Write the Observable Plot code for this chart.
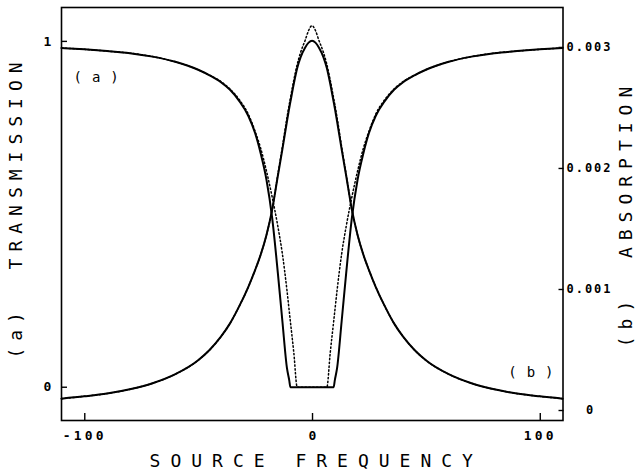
<!DOCTYPE html>
<html>
<head>
<meta charset="utf-8">
<script src="https://cdn.jsdelivr.net/npm/d3@7"></script>
<script src="https://cdn.jsdelivr.net/npm/@observablehq/plot@0.6"></script>
<style>
  html, body { margin: 0; padding: 0; background: #fff; }
  svg { display: block; }
  svg text { white-space: pre; }
</style>
</head>
<body>
<div id="chart"></div>
<script>
// Source frequency (detuning) samples shared by all four curves
const freq = [-110, -100, -90, -80, -70, -60, -50, -45, -40, -36, -32, -28, -25, -22.5, -20, -17.5, -15, -13, -11, -10, -9.5, -8, -6.5, -5, -3, -1.5,
  0,
  1.5, 3, 5, 6.5, 8, 9.5, 10, 11, 13, 15, 17.5, 20, 22.5, 25, 28, 32, 36, 40, 45, 50, 60, 70, 80, 90, 100, 110];

// (a) transmission, solid curve
const transSolid = [0.981, 0.977, 0.972, 0.966, 0.956, 0.941, 0.918, 0.902, 0.882, 0.860, 0.828, 0.785, 0.735, 0.675, 0.600, 0.490, 0.330, 0.190, 0.055, 0.020, 0, 0, 0, 0, 0, 0,
  0,
  0, 0, 0, 0, 0, 0, 0.020, 0.055, 0.190, 0.330, 0.490, 0.600, 0.675, 0.735, 0.785, 0.828, 0.860, 0.882, 0.902, 0.918, 0.941, 0.956, 0.966, 0.972, 0.977, 0.981];

// (a) transmission, dotted curve
const transDotted = [0.981, 0.977, 0.972, 0.966, 0.956, 0.941, 0.918, 0.902, 0.884, 0.862, 0.832, 0.790, 0.740, 0.690, 0.625, 0.550, 0.465, 0.385, 0.280, 0.220, 0.190, 0.100, 0, 0, 0, 0,
  0,
  0, 0, 0, 0, 0.100, 0.190, 0.220, 0.280, 0.385, 0.465, 0.550, 0.625, 0.690, 0.740, 0.790, 0.832, 0.862, 0.884, 0.902, 0.918, 0.941, 0.956, 0.966, 0.972, 0.977, 0.981];

// (b) absorption, solid curve
const absSolid = [0.000098, 0.000117, 0.000140, 0.000175, 0.000225, 0.00030, 0.000415, 0.00050, 0.00061, 0.00072, 0.00086, 0.00102, 0.00116, 0.00129, 0.00145, 0.00166, 0.00194, 0.00216, 0.00239, 0.00250, 0.00255, 0.00270, 0.00283, 0.00292, 0.00300, 0.00304,
  0.003055,
  0.00304, 0.00300, 0.00292, 0.00283, 0.00270, 0.00255, 0.00250, 0.00239, 0.00216, 0.00194, 0.00166, 0.00145, 0.00129, 0.00116, 0.00102, 0.00086, 0.00072, 0.00061, 0.00050, 0.000415, 0.00030, 0.000225, 0.000175, 0.000140, 0.000117, 0.000098];

// (b) absorption, dotted curve
const absDotted = [0.000098, 0.000117, 0.000140, 0.000175, 0.000225, 0.00030, 0.000415, 0.00050, 0.00061, 0.00072, 0.00086, 0.00102, 0.00116, 0.00129, 0.00145, 0.00166, 0.00195, 0.00218, 0.00242, 0.00253, 0.00258, 0.00273, 0.00286, 0.00296, 0.00306, 0.00314,
  0.00318,
  0.00314, 0.00306, 0.00296, 0.00286, 0.00273, 0.00258, 0.00253, 0.00242, 0.00218, 0.00195, 0.00166, 0.00145, 0.00129, 0.00116, 0.00102, 0.00086, 0.00072, 0.00061, 0.00050, 0.000415, 0.00030, 0.000225, 0.000175, 0.000140, 0.000117, 0.000098];

// Axis ticks and labels
const freqTicks = [-100, 0, 100];
const freqTickLabels = ["-100", "0", "100"];
const transTicks = [0, 1];
const transTickLabels = ["0", "1"];
const absTicks = [0, 0.001, 0.002, 0.003];
const absTickLabels = ["0", "0.001", "0.002", "0.003"];

// Axis titles and curve tags
const xTitle = "SOURCE FREQUENCY";
const leftTitle = "(a)  TRANSMISSION";
const rightTitle = "(b)  ABSORPTION";
const tagA = "(a)";
const tagB = "(b)";

// Scale extents: the left (transmission) scale is the plot's y scale,
// the right (absorption) scale is mapped linearly onto it.
const freqDomain = [-110, 110.2];
const transDomain = [-0.0962, 1.098];
const absDomain = [-0.0000826, 0.00333];
const absToY = a => transDomain[0] + (a - absDomain[0]) / (absDomain[1] - absDomain[0]) * (transDomain[1] - transDomain[0]);

const rows = freq.map((f, i) => ({
  f,
  t: transSolid[i],
  td: transDotted[i],
  a: absToY(absSolid[i]),
  ad: absToY(absDotted[i])
}));

const absTickY = absTicks.map(absToY);
const mono = "'DejaVu Sans Mono', monospace";

const chart = Plot.plot({
  width: 637,
  height: 471,
  marginLeft: 61,
  marginRight: 74.5,
  marginTop: 7,
  marginBottom: 51,
  x: {domain: freqDomain},
  y: {domain: transDomain},
  style: {fontFamily: mono, fontSize: "12px", color: "black", background: "white"},
  marks: [
    Plot.frame({stroke: "black", strokeWidth: 1.6}),
    Plot.axisX({
      ticks: freqTicks, tickSize: -7, tickPadding: 17, strokeWidth: 1.4,
      tickFormat: d => freqTickLabels[freqTicks.indexOf(d)],
      label: null, fontSize: 13, fontWeight: "bold", dx: 0.5
    }),
    Plot.axisY({
      anchor: "left", ticks: transTicks, tickSize: -6, tickPadding: 20, strokeWidth: 1.4,
      textAnchor: "middle",
      tickFormat: d => transTickLabels[transTicks.indexOf(d)],
      label: null, fontSize: 13, fontWeight: "bold"
    }),
    Plot.axisY({
      anchor: "right", ticks: absTickY, tickSize: -5, tickPadding: 31.5, strokeWidth: 1.4,
      textAnchor: "middle",
      tickFormat: d => absTickLabels[absTickY.indexOf(d)],
      label: null, fontSize: 12, fontWeight: "bold"
    }),
    Plot.line(rows, {x: "f", y: "td", stroke: "black", strokeWidth: 1.5, strokeDasharray: "1.4,2.4", curve: "monotone-x"}),
    Plot.line(rows, {x: "f", y: "ad", stroke: "black", strokeWidth: 1.5, strokeDasharray: "1.4,2.4", curve: "monotone-x"}),
    Plot.line(rows, {x: "f", y: "t", stroke: "black", strokeWidth: 2, curve: "monotone-x"}),
    Plot.line(rows, {x: "f", y: "a", stroke: "black", strokeWidth: 2, curve: "monotone-x"}),
    Plot.text([xTitle], {
      text: d => d, frameAnchor: "bottom", textAnchor: "middle", dy: 41, dx: 4,
      lineAnchor: "middle", fontSize: 18
    }),
    Plot.text([leftTitle], {
      text: d => d, frameAnchor: "left", textAnchor: "middle", rotate: -90, dx: -45.5, dy: -7,
      lineAnchor: "middle", fontSize: 18
    }),
    Plot.text([rightTitle], {
      text: d => d, frameAnchor: "right", textAnchor: "middle", rotate: -90, dx: 63, dy: -0.5,
      lineAnchor: "middle", fontSize: 18
    }),
    Plot.text([tagA], {
      text: d => d, frameAnchor: "top-left", textAnchor: "start", lineAnchor: "middle",
      dx: 12, dy: 70, fontSize: 14
    }),
    Plot.text([tagB], {
      text: d => d, frameAnchor: "bottom-right", textAnchor: "end", lineAnchor: "middle",
      dx: 0.5, dy: -48, fontSize: 14
    })
  ]
});

// Letter spacing of the plotter-style lettering, keyed by the drawn string
const spacing = new Map([
  [xTitle, 10], [leftTitle, 7], [rightTitle, 7], [tagA, 10], [tagB, 10],
  ["-100", 3.2], ["100", 3.2],
  ["0.001", 2], ["0.002", 2], ["0.003", 2]
]);
chart.querySelectorAll("text").forEach(t => {
  const s = spacing.get(t.textContent);
  if (s != null) t.style.letterSpacing = s + "px";
});

document.getElementById("chart").appendChild(chart);
</script>
</body>
</html>
